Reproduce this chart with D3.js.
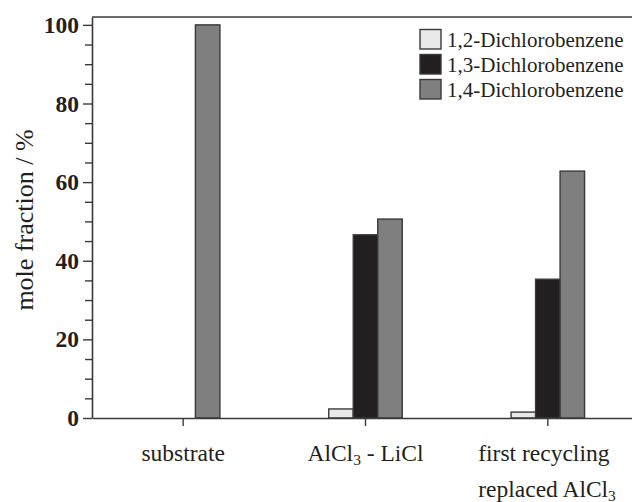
<!DOCTYPE html>
<html>
<head>
<meta charset="utf-8">
<script src="https://cdn.jsdelivr.net/npm/d3@7"></script>
<style>
  html, body { margin: 0; padding: 0; background: #fff; }
  svg { display: block; }
  text { font-family: "Liberation Serif", "Times New Roman", serif; fill: #231f20; }
</style>
</head>
<body>
<svg id="chart" width="632" height="502"></svg>
<script>
// Reaction conditions (x categories); label lines, with "3" drawn as subscript
const categories = ["substrate", "AlCl3 - LiCl", "first recycling replaced AlCl3"];
const categoryLabels = [
  [[{t: "substrate"}]],
  [[{t: "AlCl"}, {t: "3", sub: true}, {t: " - LiCl"}]],
  [[{t: "first recycling"}], [{t: "replaced AlCl"}, {t: "3", sub: true}]]
];

// Isomers (series)
const series = ["1,2-Dichlorobenzene", "1,3-Dichlorobenzene", "1,4-Dichlorobenzene"];
const seriesColors = ["#e8e8e8", "#231f20", "#7f7f7f"];

// Mole fraction (%) per category, one array per isomer
const ortho = [0, 2.3, 1.5];
const meta  = [0, 46.6, 35.3];
const para  = [100, 50.6, 62.8];

// Axis ticks
const yMajorTicks = [0, 20, 40, 60, 80, 100];
const yMinorTicks = [5, 10, 15, 25, 30, 35, 45, 50, 55, 65, 70, 75, 85, 90, 95];

const valuesBySeries = [ortho, meta, para];
const rows = [];
categories.forEach((c, i) => {
  series.forEach((s, j) => rows.push({category: c, series: s, value: valuesBySeries[j][i], color: seriesColors[j]}));
});

const svg = d3.select("#chart");
const plotLeft = 92, plotRight = 639, plotTop = 17, plotBottom = 418;
const axisColor = "#3a3a3a";

const x = d3.scaleBand().domain(categories).range([plotLeft, plotRight]).padding(0);
const groupWidth = 73.5;
const xInner = d3.scaleBand().domain(series).range([-groupWidth / 2, groupWidth / 2]).padding(0);
const y = d3.scaleLinear().domain([0, 102]).range([plotBottom, plotTop]);

// Bars
svg.append("g").selectAll("rect")
  .data(rows.filter(d => d.value > 0))
  .join("rect")
  .attr("x", d => x(d.category) + x.bandwidth() / 2 + xInner(d.series))
  .attr("width", xInner.bandwidth())
  .attr("y", d => y(d.value))
  .attr("height", d => y(0) - y(d.value))
  .attr("fill", d => d.color)
  .attr("stroke", "#3a3a3a")
  .attr("stroke-width", 1.4);

// Top frame line
svg.append("line")
  .attr("x1", plotLeft).attr("x2", 632).attr("y1", y(102)).attr("y2", y(102))
  .attr("stroke", axisColor).attr("stroke-width", 1.6);

// Y axis: minor ticks, then major ticks with bold labels
const yMinor = svg.append("g").attr("transform", `translate(${plotLeft},0)`)
  .call(d3.axisLeft(y).tickValues(yMinorTicks).tickSize(7).tickFormat(""));
yMinor.select(".domain").remove();
yMinor.selectAll(".tick line").attr("stroke", axisColor).attr("stroke-width", 1.4);

const yAxis = svg.append("g").attr("transform", `translate(${plotLeft},0)`)
  .call(d3.axisLeft(y).tickValues(yMajorTicks).tickSize(9).tickSizeOuter(0).tickPadding(5));
yAxis.select(".domain").attr("stroke", axisColor).attr("stroke-width", 1.6);
yAxis.selectAll(".tick line").attr("stroke", axisColor).attr("stroke-width", 1.4);
yAxis.selectAll(".tick text")
  .attr("font-family", "'Liberation Serif', serif")
  .attr("font-size", 23.5).attr("font-weight", "bold").attr("fill", "#231f20")
  .attr("x", -13);

// X axis
const xAxis = svg.append("g").attr("transform", `translate(0,${plotBottom})`)
  .call(d3.axisBottom(x).tickSize(8).tickSizeOuter(0).tickFormat(""));
xAxis.select(".domain").attr("stroke", axisColor).attr("stroke-width", 1.6);
xAxis.selectAll(".tick line").attr("stroke", axisColor).attr("stroke-width", 1.4);

// Category labels (multi-line ones are left-aligned, block set slightly left of the tick)
const lineBaselines = [460.5, 497];
categories.forEach((c, i) => {
  const cx = x(c) + x.bandwidth() / 2;
  const lines = categoryLabels[i];
  const g = svg.append("g");
  const texts = lines.map((parts, k) => {
    const t = g.append("text").attr("y", lineBaselines[k]).attr("font-size", 23.5);
    parts.forEach((p, m) => {
      const ts = t.append("tspan").text(p.t);
      if (p.sub) ts.attr("font-size", 15.5).attr("dy", 4);
      else if (m > 0 && parts[m - 1].sub) ts.attr("dy", -4);
    });
    return t;
  });
  const w0 = texts[0].node().getComputedTextLength();
  const x0 = cx - w0 / 2 - (lines.length > 1 ? 4 : 0);
  texts.forEach(t => t.attr("x", x0));
});

// Y axis title
svg.append("text")
  .attr("transform", `translate(33,220) rotate(-90)`)
  .attr("text-anchor", "middle")
  .attr("font-size", 26)
  .text("mole fraction / %");

// Legend
const legend = svg.append("g");
series.forEach((s, j) => {
  const ly = 29.5 + j * 25;
  legend.append("rect")
    .attr("x", 420).attr("y", ly).attr("width", 21).attr("height", 19.5)
    .attr("fill", seriesColors[j]).attr("stroke", "#3a3a3a").attr("stroke-width", 1.4);
  legend.append("text")
    .attr("x", 447).attr("y", ly + 17.5)
    .attr("font-size", 21)
    .text(s);
});
</script>
</body>
</html>
